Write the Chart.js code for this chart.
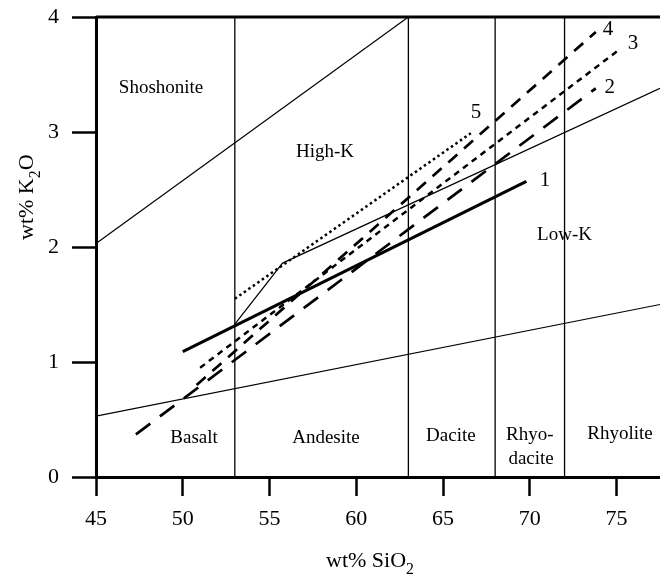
<!DOCTYPE html>
<html>
    <head>
        <meta charset="utf-8">
        <script src="https://cdn.jsdelivr.net/npm/chart.js@4.4.0/dist/chart.umd.min.js"></script>
        <style>
            body { margin: 0; background: #fff; }
        </style>
    </head>
    <body>
        <div style="width: 660px; height: 574px;">
            <canvas id="wykres" width="660" height="574"></canvas>
        </div>
        <script>
            // axis ticks
            var siO2Ticks = [45, 50, 55, 60, 65, 70, 75];
            var k2oTicks = [0, 1, 2, 3, 4];
            var siO2Range = [45, 77.5];
            var k2oRange = [0, 4];

            // rock type divides (wt% SiO2)
            var rockDivides = [53, 63, 68, 72];

            // field boundaries
            var shoshoniteX = [45, 63];
            var shoshoniteY = [2.03, 4.0];
            var highKX = [53, 55.75, 77.5];
            var highKY = [1.33, 1.86, 3.38];
            var lowKX = [45, 77.5];
            var lowKY = [0.53, 1.5];

            // trends 1-5
            var trend1X = [50, 69.8];
            var trend1Y = [1.09, 2.57];
            var trend2X = [47.3, 73.8];
            var trend2Y = [0.37, 3.38];
            var trend3X = [51, 75.1];
            var trend3Y = [0.95, 3.71];
            var trend4X = [50.8, 73.8];
            var trend4Y = [0.8, 3.87];
            var trend5X = [53, 66.6];
            var trend5Y = [1.55, 2.99];

            // field names
            var fieldNames = ["Shoshonite", "High-K", "Low-K", "Basalt", "Andesite", "Dacite", "Rhyo-", "dacite", "Rhyolite"];
            var fieldNameX = [48.75, 58.2, 72.0, 50.65, 58.25, 65.45, 70.0, 70.07, 75.2];
            var fieldNameY = [3.38, 2.83, 2.10, 0.34, 0.34, 0.36, 0.365, 0.157, 0.374];
            var trendNames = ["1", "2", "3", "4", "5"];
            var trendNameX = [70.87, 74.6, 75.95, 74.5, 66.9];
            var trendNameY = [2.58, 3.39, 3.77, 3.89, 3.17];

            var serif = '"Liberation Serif", "Times New Roman", serif';

            function pts(xs, ys) {
                return xs.map(function (x, i) { return { x: x, y: ys[i] }; });
            }
            function linia(xs, ys, w, dash) {
                return { data: pts(xs, ys), borderColor: "#000", borderWidth: w,
                         borderDash: dash || [], showLine: true, pointRadius: 0,
                         fill: false, tension: 0, borderCapStyle: "butt" };
            }

            var zestawy = [];
            rockDivides.forEach(function (v) {
                zestawy.push(linia([v, v], k2oRange, 1.3));
            });
            zestawy.push(linia(shoshoniteX, shoshoniteY, 1.2));
            zestawy.push(linia(highKX, highKY, 1.2));
            zestawy.push(linia(lowKX, lowKY, 1.2));
            var gora = linia(siO2Range, [k2oRange[1], k2oRange[1]], 3);
            gora.clip = false;
            zestawy.push(gora);
            zestawy.push(linia(trend1X, trend1Y, 3));
            zestawy.push(linia(trend2X, trend2Y, 2.7, [18, 12]));
            zestawy.push(linia(trend3X, trend3Y, 2.5, [6, 5]));
            zestawy.push(linia(trend4X, trend4Y, 2.7, [12, 9]));
            zestawy.push(linia(trend5X, trend5Y, 2.5, [2.5, 3]));

            function subText(ctx, x, y, parts, size) {
                var cx = x;
                parts.forEach(function (p) {
                    var s = p[1] ? size * 0.72 : size;
                    ctx.font = s + "px " + serif;
                    ctx.fillText(p[0], cx, p[1] ? y + size * 0.3 : y);
                    cx += ctx.measureText(p[0]).width;
                });
            }

            var napisy = {
                id: "napisy",
                afterDatasetsDraw: function (chart) {
                    var ctx = chart.ctx;
                    var sx = chart.scales.x, sy = chart.scales.y;
                    ctx.save();
                    ctx.fillStyle = "#000";
                    ctx.textAlign = "center";
                    ctx.textBaseline = "middle";
                    ctx.font = "19px " + serif;
                    fieldNames.forEach(function (t, i) {
                        ctx.fillText(t, sx.getPixelForValue(fieldNameX[i]), sy.getPixelForValue(fieldNameY[i]));
                    });
                    ctx.font = "21px " + serif;
                    trendNames.forEach(function (t, i) {
                        ctx.fillText(t, sx.getPixelForValue(trendNameX[i]), sy.getPixelForValue(trendNameY[i]));
                    });
                    // axis titles
                    ctx.textAlign = "left";
                    ctx.textBaseline = "alphabetic";
                    subText(ctx, 326, 567, [["wt% SiO", false], ["2", true]], 22);
                    ctx.translate(33, 240);
                    ctx.rotate(-Math.PI / 2);
                    subText(ctx, 0, 0, [["wt% K", false], ["2", true], ["O", false]], 22);
                    ctx.restore();
                }
            };

            var ctx = document.getElementById("wykres").getContext("2d");
            var wykres = new Chart(ctx, {
                type: "scatter",
                data: { datasets: zestawy },
                plugins: [napisy],
                options: {
                    responsive: false,
                    animation: false,
                    layout: { padding: { top: 17, left: 0, right: 0, bottom: 0 } },
                    plugins: { legend: { display: false }, tooltip: { enabled: false } },
                    scales: {
                        x: {
                            type: "linear",
                            min: siO2Range[0], max: siO2Range[1],
                            afterBuildTicks: function (s) { s.ticks = siO2Ticks.map(function (v) { return { value: v }; }); },
                            afterFit: function (s) { s.height = 97; s.paddingLeft = 0; s.paddingRight = 0; },
                            grid: { drawOnChartArea: false, drawTicks: true, tickLength: 19, tickWidth: 2.5, tickColor: "#000" },
                            border: { display: true, width: 3, color: "#000" },
                            ticks: { color: "#000", padding: 10, maxRotation: 0, font: { family: serif, size: 22 } }
                        },
                        y: {
                            type: "linear",
                            min: k2oRange[0], max: k2oRange[1],
                            afterBuildTicks: function (s) { s.ticks = k2oTicks.map(function (v) { return { value: v }; }); },
                            afterFit: function (s) { s.width = 96; s.paddingTop = 0; s.paddingBottom = 0; },
                            grid: { drawOnChartArea: false, drawTicks: true, tickLength: 24, tickWidth: 2.5, tickColor: "#000" },
                            border: { display: true, width: 3, color: "#000" },
                            ticks: { color: "#000", padding: 13, font: { family: serif, size: 22 } }
                        }
                    }
                }
            });
        </script>
    </body>
</html>
